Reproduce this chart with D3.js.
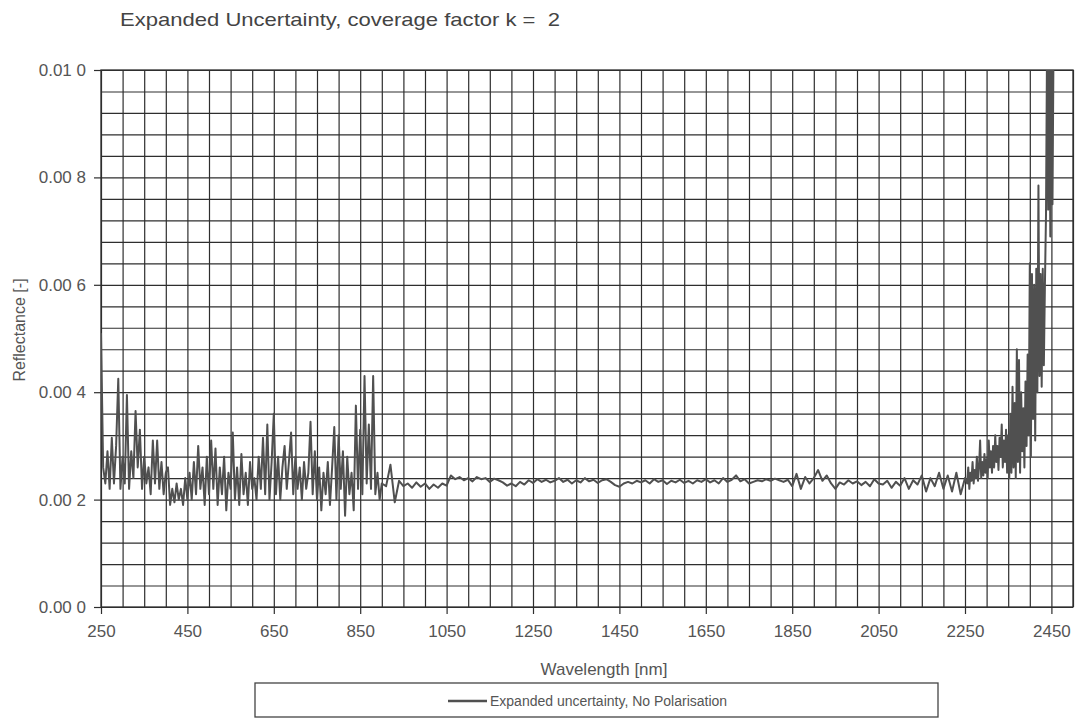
<!DOCTYPE html>
<html>
<head>
<meta charset="utf-8">
<script src="https://cdn.jsdelivr.net/npm/d3@7"></script>
<style>
  body { margin: 0; background: #fff; }
  svg { display: block; font-family: "Liberation Sans", Arial, sans-serif; }
  .keep-spaces { white-space: pre; }
</style>
</head>
<body>
<script>
// Reflectance values in units of 1e-3
// UV / VIS part: 250 .. 900 nm, every 5 nm
const uvStart = 250, uvStep = 5;
const uvValues = [
  5.1, 2.6, 2.3, 2.9, 2.2, 3.15, 2.3, 3.0, 4.25, 2.2,
  2.8, 2.3, 3.95, 2.2, 2.9, 2.4, 3.65, 2.6, 3.3, 2.2,
  2.8, 2.3, 2.6, 2.1, 3.1, 2.3, 3.1, 2.2, 2.7, 2.1,
  2.5, 2.6, 1.9, 2.2, 1.95, 2.3, 2.0, 2.2, 1.9, 2.4,
  2.0, 2.5, 2.0, 2.7, 2.1, 3.0, 2.2, 2.6, 1.9, 2.8,
  2.1, 3.1, 2.2, 2.95, 1.9, 2.6, 2.1, 2.8, 1.8, 2.5,
  2.2, 3.25, 2.0, 2.6, 1.9, 2.85, 2.1, 2.5, 1.9, 2.7,
  2.2, 2.4, 2.0, 2.8, 2.2, 3.15, 2.1, 3.4, 2.0, 2.7,
  3.6, 2.1, 2.8, 2.0, 2.6, 3.0, 2.2, 2.7, 3.25, 2.1,
  2.8, 2.2, 2.6, 2.0, 2.7, 2.2, 2.5, 3.45, 2.1, 2.9,
  2.0, 2.6, 1.8, 2.5, 2.1, 2.7, 1.9, 2.6, 3.35, 2.0,
  3.2, 2.2, 2.9, 1.7, 2.8, 2.1, 2.5, 1.8, 3.75, 2.2,
  3.3, 2.1, 4.3, 2.3, 3.4, 2.2, 4.3, 2.1, 2.5, 2.0,
  2.3
];

// NIR plateau: 910 .. 2250 nm, every 10 nm
const nirStart = 910, nirStep = 10;
const nirValues = [
  2.25, 2.65, 1.95, 2.35, 2.25, 2.3, 2.22, 2.32, 2.24, 2.3,
  2.2, 2.28, 2.22, 2.3, 2.26, 2.45, 2.38, 2.42, 2.36, 2.4,
  2.34, 2.42, 2.38, 2.4, 2.33, 2.39, 2.36, 2.32, 2.26, 2.3,
  2.25, 2.33, 2.28, 2.36, 2.31, 2.38, 2.33, 2.37, 2.32, 2.35,
  2.4, 2.33, 2.37, 2.3, 2.36, 2.32, 2.4, 2.34, 2.37, 2.31,
  2.36, 2.38, 2.33, 2.27, 2.24, 2.3, 2.33, 2.3, 2.35, 2.32,
  2.36, 2.3, 2.38, 2.33, 2.36, 2.29, 2.35, 2.32, 2.37, 2.31,
  2.35, 2.3, 2.36, 2.33, 2.38, 2.32, 2.36, 2.3, 2.4, 2.33,
  2.37, 2.45, 2.34, 2.38, 2.3, 2.33, 2.36, 2.34, 2.38, 2.35,
  2.39, 2.36, 2.33, 2.37, 2.25, 2.48, 2.2, 2.42, 2.3, 2.4,
  2.55, 2.35, 2.45, 2.3, 2.2, 2.32, 2.28, 2.36, 2.3, 2.34,
  2.27, 2.33, 2.25, 2.38, 2.3, 2.28, 2.35, 2.22, 2.33, 2.26,
  2.4, 2.2, 2.36, 2.28, 2.45, 2.15, 2.4, 2.25, 2.5, 2.2,
  2.45, 2.15, 2.5, 2.1, 2.4
];

// SWIR edge: 2255 .. 2455 nm, every 2.5 nm (values above 10 run off the top)
const swirStart = 2255, swirStep = 2.5;
const swirValues = [
  2.3, 2.6, 2.2, 2.5, 2.35, 2.7, 2.3, 2.55, 2.4, 2.8,
  2.35, 2.6, 3.1, 2.4, 2.7, 2.45, 2.85, 2.5, 2.75, 2.4,
  3.1, 2.6, 2.9, 2.5, 3.0, 2.6, 3.2, 2.7, 3.0, 2.55,
  3.15, 2.8, 3.4, 2.6, 3.1, 2.7, 3.3, 2.5, 3.2, 2.4,
  3.6, 2.5, 4.1, 2.6, 3.8, 2.4, 4.8, 2.7, 4.6, 2.5,
  4.0, 2.9, 3.7, 2.6, 4.2, 3.0, 4.7, 3.2, 6.4, 2.8,
  6.2, 3.5, 6.0, 3.1, 6.3, 4.0, 7.85, 4.3, 6.2, 4.1,
  6.3, 4.5, 6.0, 7.3, 10.6, 7.4, 10.6, 6.9, 10.6, 7.5,
  10.6
];

const xTicks = [250, 450, 650, 850, 1050, 1250, 1450, 1650, 1850, 2050, 2250, 2450];
const yTicks = [0, 2, 4, 6, 8, 10];
const yTickLabels = ["0.00 0", "0.00 2", "0.00 4", "0.00 6", "0.00 8", "0.01 0"];

// join the three parts into one series
const series = []
  .concat(uvValues.map((v, i) => ({ wl: uvStart + i * uvStep, r: v })))
  .concat(nirValues.map((v, i) => ({ wl: nirStart + i * nirStep, r: v })))
  .concat(swirValues.map((v, i) => ({ wl: swirStart + i * swirStep, r: v })));

const W = 1076, H = 721;
const margin = { top: 70, right: 3, bottom: 114, left: 101 };
const width = W - margin.left - margin.right;
const height = H - margin.top - margin.bottom;

const svg = d3.select("body").append("svg")
  .attr("width", W)
  .attr("height", H);

const g = svg.append("g")
  .attr("transform", "translate(" + margin.left + "," + margin.top + ")");

const x = d3.scaleLinear().domain([250, 2500]).range([0, width]);
const y = d3.scaleLinear().domain([0, 10]).range([height, 0]);

// grid: every 50 nm and every 0.0004
const gridColor = "#2e2e2e";
g.append("g")
  .attr("class", "grid-x")
  .attr("transform", "translate(0," + height + ")")
  .call(d3.axisBottom(x).tickValues(d3.range(250, 2501, 50)).tickSize(-height).tickFormat(""))
  .call(s => s.select(".domain").remove())
  .call(s => s.selectAll("line").attr("stroke", gridColor).attr("stroke-width", 1.2));

g.append("g")
  .attr("class", "grid-y")
  .call(d3.axisLeft(y).tickValues(d3.range(0, 26).map(i => i * 0.4)).tickSize(-width).tickFormat(""))
  .call(s => s.select(".domain").remove())
  .call(s => s.selectAll("line").attr("stroke", gridColor).attr("stroke-width", 1.2));

// axes with the labelled ticks
const labelColor = "#555";
g.append("g")
  .attr("transform", "translate(0," + height + ")")
  .call(d3.axisBottom(x).tickValues(xTicks).tickSize(7).tickPadding(11).tickFormat(d3.format("d")))
  .call(s => s.select(".domain").remove())
  .call(s => s.selectAll("line").attr("stroke", gridColor).attr("stroke-width", 1.2))
  .call(s => s.selectAll("text").attr("fill", labelColor).attr("font-size", 17)
    .attr("font-family", "Liberation Sans, Arial, sans-serif"));

g.append("g")
  .call(d3.axisLeft(y).tickValues(yTicks).tickSize(7).tickPadding(8)
    .tickFormat((d, i) => yTickLabels[i]))
  .call(s => s.select(".domain").remove())
  .call(s => s.selectAll("line").attr("stroke", gridColor).attr("stroke-width", 1.2))
  .call(s => s.selectAll("text").attr("fill", labelColor).attr("font-size", 17)
    .attr("font-family", "Liberation Sans, Arial, sans-serif"));

// plot border
g.append("rect")
  .attr("width", width)
  .attr("height", height)
  .attr("fill", "none")
  .attr("stroke", gridColor)
  .attr("stroke-width", 1.3);

// the data line, clipped to the plot
svg.append("clipPath").attr("id", "plot-clip")
  .append("rect").attr("width", width).attr("height", height);

const line = d3.line()
  .x(d => x(d.wl))
  .y(d => y(d.r));

g.append("path")
  .datum(series)
  .attr("clip-path", "url(#plot-clip)")
  .attr("fill", "none")
  .attr("stroke", "#505050")
  .attr("stroke-width", 2)
  .attr("stroke-linejoin", "round")
  .attr("d", line);

// titles
svg.append("text")
  .attr("class", "keep-spaces")
  .attr("x", 120)
  .attr("y", 26)
  .attr("font-size", 19)
  .attr("textLength", 440)
  .attr("lengthAdjust", "spacingAndGlyphs")
  .attr("fill", "#444")
  .text("Expanded Uncertainty, coverage factor k =  2");

svg.append("text")
  .attr("x", 604)
  .attr("y", 675)
  .attr("text-anchor", "middle")
  .attr("font-size", 17)
  .attr("fill", labelColor)
  .text("Wavelength [nm]");

svg.append("text")
  .attr("transform", "translate(25,330) rotate(-90)")
  .attr("text-anchor", "middle")
  .attr("font-size", 16)
  .attr("fill", labelColor)
  .text("Reflectance [-]");

// legend
const legend = svg.append("g");
legend.append("rect")
  .attr("x", 255).attr("y", 683)
  .attr("width", 683).attr("height", 34)
  .attr("fill", "#fff")
  .attr("stroke", "#444")
  .attr("stroke-width", 1.3);
legend.append("line")
  .attr("x1", 448).attr("x2", 487)
  .attr("y1", 701).attr("y2", 701)
  .attr("stroke", "#505050")
  .attr("stroke-width", 2.5);
legend.append("text")
  .attr("x", 490).attr("y", 706)
  .attr("font-size", 14)
  .attr("fill", labelColor)
  .text("Expanded uncertainty, No Polarisation");
</script>
</body>
</html>
